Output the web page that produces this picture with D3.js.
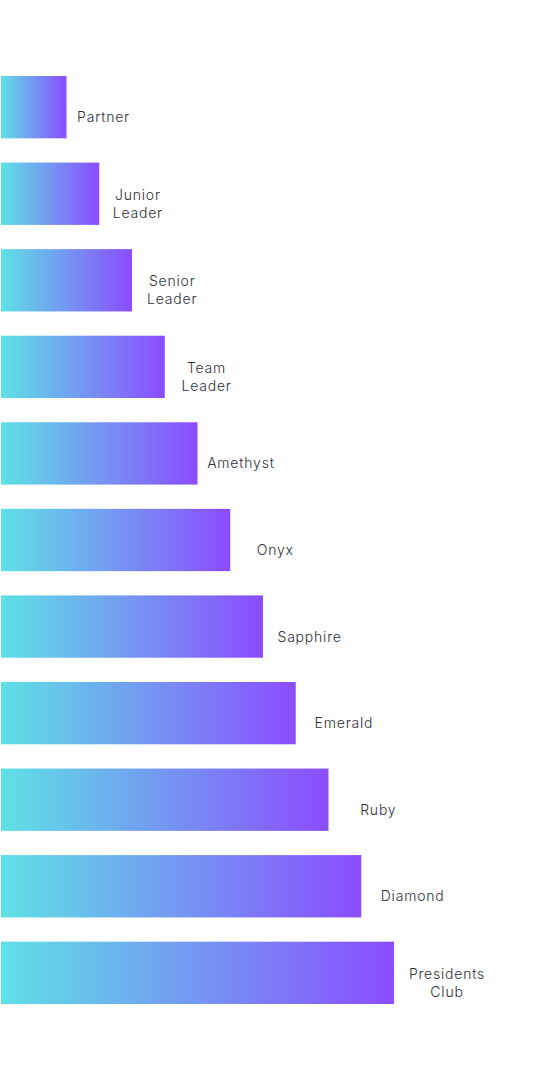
<!DOCTYPE html>
<html>
<head>
<meta charset="utf-8">
<script src="https://cdn.jsdelivr.net/npm/d3@7"></script>
<style>
  html, body { margin: 0; padding: 0; background: #fff; }
  svg { display: block; }
  .label { font-family: Inter, "Noto Sans", sans-serif; font-size: 14px; font-weight: 300; fill: #2f2f38; letter-spacing: 0.8px; }
</style>
</head>
<body>
<div id="chart"></div>
<script>
// ranks, bottom to top in size
var ranks = ["Partner", "Junior Leader", "Senior Leader", "Team Leader", "Amethyst",
  "Onyx", "Sapphire", "Emerald", "Ruby", "Diamond", "Presidents Club"];
var labelLines = [["Partner"], ["Junior", "Leader"], ["Senior", "Leader"], ["Team", "Leader"], ["Amethyst"],
  ["Onyx"], ["Sapphire"], ["Emerald"], ["Ruby"], ["Diamond"], ["Presidents", "Club"]];
var levels = [2, 3, 4, 5, 6, 7, 8, 9, 10, 11, 12];

var svgWidth = 534, svgHeight = 1080;
var margin = {top: 76, right: 0, bottom: 76, left: 1};

var svg = d3.select("#chart")
  .append("svg")
  .attr("width", svgWidth)
  .attr("height", svgHeight);

var defs = svg.append("defs");
var grad = defs.append("linearGradient")
  .attr("id", "barGrad")
  .attr("x1", "0%").attr("x2", "100%")
  .attr("y1", "0%").attr("y2", "0%");
grad.append("stop").attr("offset", "0%").attr("stop-color", "#5ee1e5");
grad.append("stop").attr("offset", "100%").attr("stop-color", "#8b4cff");

var x = d3.scaleLinear()
  .domain([0, 12])
  .range([margin.left, margin.left + 393]);

var y = d3.scaleBand()
  .domain(ranks)
  .range([margin.top, svgHeight - margin.bottom])
  .paddingInner(0.28)
  .paddingOuter(0);

var rows = svg.append("g")
  .selectAll("g")
  .data(ranks)
  .join("g");

rows.append("rect")
  .attr("x", x(0))
  .attr("y", d => y(d))
  .attr("width", (d, i) => x(levels[i]) - x(0))
  .attr("height", y.bandwidth())
  .attr("fill", "url(#barGrad)");

rows.append("text")
  .attr("class", "label")
  .attr("text-anchor", "middle")
  .each(function(d, i) {
    var lines = labelLines[i];
    var lineH = 18;
    var cy = y(d) + y.bandwidth() / 2 + 10;
    var startY = cy - (lines.length - 1) * lineH / 2 + 5;
    // labels sit a little further out on the longer bars
    var lx = x(levels[i]) + 37 + 1.6 * i;
    var t = d3.select(this);
    lines.forEach(function(line, j) {
      t.append("tspan")
        .attr("x", lx)
        .attr("y", startY + j * lineH)
        .text(line);
    });
  });
</script>
</body>
</html>
